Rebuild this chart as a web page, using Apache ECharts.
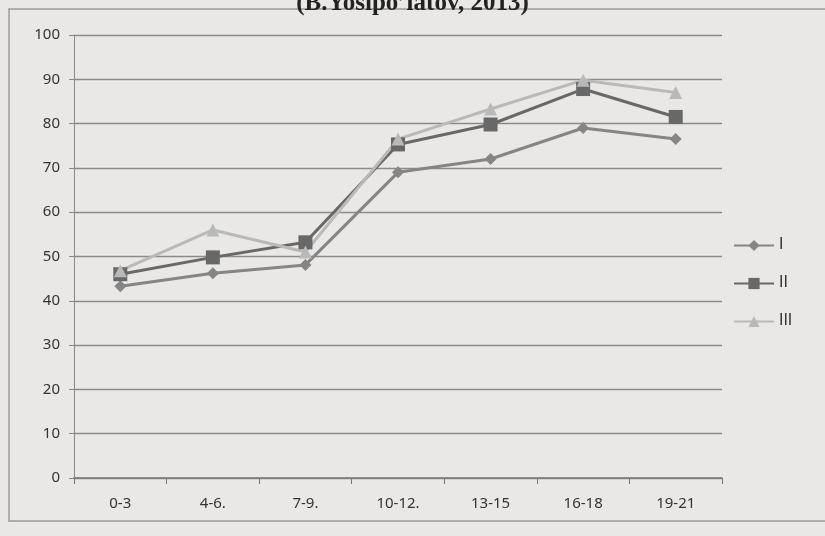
<!DOCTYPE html>
<html><head><meta charset="utf-8">
<script src="https://cdn.jsdelivr.net/npm/echarts@6/dist/echarts.min.js"></script>
<style>html,body{margin:0;padding:0;background:#e9e8e6;}#c{width:825px;height:536px;}</style>
</head><body><div id="c"></div>
<script>
const categories = ['0-3', '4-6.', '7-9.', '10-12.', '13-15', '16-18', '19-21'];
const seriesI = [43.3, 46.2, 48.1, 69.0, 72.0, 79.0, 76.5];
const seriesII = [46.0, 49.8, 53.2, 75.3, 79.8, 87.8, 81.5];
const seriesIII = [46.8, 56.0, 51.0, 76.5, 83.3, 89.8, 87.0];
const yTicks = [0, 10, 20, 30, 40, 50, 60, 70, 80, 90, 100];
const seriesNames = ['I', 'II', 'III'];

const chart = echarts.init(document.getElementById('c'));
const font = 'Noto Sans';
chart.setOption({
  backgroundColor: '#e9e8e6',
  animation: false,
  textStyle: {fontFamily: font},
  title: {
    text: '(B.Yosipo\u2019latov, 2013)',
    left: 'center', top: -14,
    textStyle: {fontFamily: 'Liberation Serif', fontWeight: 'bold', fontSize: 25, color: '#222'}
  },
  graphic: [{
    type: 'rect', shape: {x: 9, y: 9, width: 840, height: 512},
    style: {fill: 'none', stroke: '#9a9a9a', lineWidth: 1.5}
  }],
  legend: {
    orient: 'vertical', left: 728, top: 233, itemGap: 23,
    itemWidth: 40, itemHeight: 14,
    textStyle: {fontFamily: 'DejaVu Sans', fontSize: 15, color: '#333'},
    data: seriesNames
  },
  grid: {left: 74, right: 103, top: 35, bottom: 58},
  xAxis: {
    type: 'category', data: categories, boundaryGap: true,
    axisLine: {lineStyle: {color: '#777', width: 1.5}},
    axisTick: {show: true, length: 6, alignWithLabel: false, lineStyle: {color: '#777'}},
    axisLabel: {fontFamily: font, fontSize: 15, color: '#333', margin: 18}
  },
  yAxis: {
    type: 'value', min: yTicks[0], max: yTicks[yTicks.length - 1], interval: 10,
    axisLine: {show: true, lineStyle: {color: '#888', width: 1}},
    axisTick: {show: true, length: 5, lineStyle: {color: '#888'}},
    splitLine: {lineStyle: {color: '#8a8a8a', width: 1.3}},
    axisLabel: {fontFamily: font, fontSize: 15, color: '#333', margin: 14}
  },
  series: [
    {name: seriesNames[0], type: 'line', data: seriesI, symbol: 'diamond', symbolSize: 12,
     lineStyle: {color: '#858585', width: 3}, itemStyle: {color: '#858585'}},
    {name: seriesNames[1], type: 'line', data: seriesII, symbol: 'rect', symbolSize: 14,
     lineStyle: {color: '#686868', width: 3}, itemStyle: {color: '#686868'}},
    {name: seriesNames[2], type: 'line', data: seriesIII, symbol: 'triangle', symbolSize: 13,
     lineStyle: {color: '#b9b9b9', width: 3}, itemStyle: {color: '#b9b9b9'}}
  ]
});
</script></body></html>
